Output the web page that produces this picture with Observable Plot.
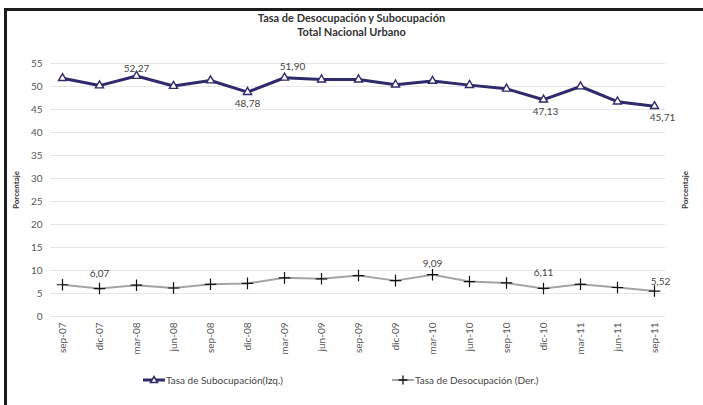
<!DOCTYPE html>
<html>
<head>
<meta charset="utf-8">
<script src="https://cdn.jsdelivr.net/npm/d3@7"></script>
<script src="https://cdn.jsdelivr.net/npm/@observablehq/plot@0.6"></script>
<style>
  html, body { margin: 0; padding: 0; background: #fff; }
  #wrap { position: relative; width: 703px; height: 405px; overflow: hidden; font-family: Lato, "Open Sans", sans-serif; }
  #frame { position: absolute; left: 4px; top: 8px; width: 710px; height: 410px; border-left: 3px solid #1c1c1c; border-top: 3px solid #1c1c1c; box-sizing: border-box; }
  #title { position: absolute; left: 0; width: 703px; top: 11px; text-align: center; font-weight: bold; font-size: 11px; line-height: 14px; color: #333; }
  #chart { position: absolute; left: 0; top: 0; }
  .ylab { position: absolute; font-size: 8px; font-weight: bold; color: #333; transform: rotate(-90deg); transform-origin: center; white-space: nowrap; }
  #legend { position: absolute; top: 373px; left: 0; width: 703px; font-size: 10px; color: #444; }
  .item { position: absolute; display: flex; align-items: center; white-space: nowrap; }
</style>
</head>
<body>
<div id="wrap">
  <div id="frame"></div>
  <div id="chart"></div>
  <div id="title">Tasa de Desocupación y Subocupación<br>Total Nacional Urbano</div>
  <div class="ylab" style="left:-3px; top:185px;">Porcentaje</div>
  <div class="ylab" style="left:666px; top:185px;">Porcentaje</div>
  <div id="legend"></div>
</div>
<script>
const periods = ["sep-07","dic-07","mar-08","jun-08","sep-08","dic-08","mar-09","jun-09","sep-09","dic-09","mar-10","jun-10","sep-10","dic-10","mar-11","jun-11","sep-11"];
const subocupacion = [51.8, 50.2, 52.27, 50.1, 51.3, 48.78, 51.90, 51.5, 51.5, 50.4, 51.2, 50.3, 49.5, 47.13, 50.0, 46.7, 45.71];
const desocupacion = [6.9, 6.07, 6.8, 6.2, 7.0, 7.2, 8.4, 8.2, 8.9, 7.8, 9.09, 7.6, 7.3, 6.11, 7.0, 6.3, 5.52];
const yTicks = [0,5,10,15,20,25,30,35,40,45,50,55];
const seriesNames = ["Tasa de Subocupación(Izq.)", "Tasa de Desocupación (Der.)"];

const fmt = v => v.toFixed(2).replace(".", ",");
const sub = periods.map((p, i) => ({p, v: subocupacion[i]}));
const des = periods.map((p, i) => ({p, v: desocupacion[i]}));

const subLabels = [
  {i: 2, dx: 0, dy: -7},
  {i: 5, dx: 0, dy: 12},
  {i: 6, dx: 8, dy: -11},
  {i: 13, dx: 2, dy: 12},
  {i: 16, dx: 8, dy: 12}
].map(d => ({...d, p: periods[d.i], v: subocupacion[d.i], t: fmt(subocupacion[d.i])}));
const desLabels = [
  {i: 1, dx: 0, dy: -15},
  {i: 10, dx: 0, dy: -11},
  {i: 13, dx: 0, dy: -16},
  {i: 16, dx: 6, dy: -9}
].map(d => ({...d, p: periods[d.i], v: desocupacion[d.i], t: fmt(desocupacion[d.i])}));

const subColor = "#2f2a6b";
const desColor = "#a8a3a3";

const textMarks = (arr, color) => arr.map(d => Plot.text([d], {x: "p", y: "v", text: "t", dx: d.dx, dy: d.dy, fill: color, fontSize: 10}));

const chart = Plot.plot({
  width: 703,
  height: 405,
  marginLeft: 50,
  marginRight: 38,
  marginTop: 63,
  marginBottom: 89,
  style: {fontFamily: "Lato, 'Open Sans', sans-serif", background: "transparent", overflow: "visible"},
  x: {type: "point", domain: periods, padding: 0.2, label: null},
  y: {domain: [0, 55], label: null},
  marks: [
    Plot.gridY(yTicks, {stroke: "#e6e6e6", strokeOpacity: 1, strokeWidth: 1}),
    Plot.axisY(yTicks, {tickSize: 0, tickPadding: 8, fontSize: 10, fill: "#555", label: null}),
    Plot.axisX({tickSize: 0, tickPadding: 6, tickRotate: -90, fontSize: 10, fill: "#555", label: null}),
    Plot.line(sub, {x: "p", y: "v", stroke: subColor, strokeWidth: 3}),
    Plot.dot(sub, {x: "p", y: "v", symbol: "triangle", r: 3, fill: "white", stroke: subColor, strokeWidth: 1.4}),
    Plot.line(des, {x: "p", y: "v", stroke: desColor, strokeWidth: 2}),
    Plot.dot(des, {x: "p", y: "v", symbol: "plus", r: 3.8, stroke: "#111", strokeWidth: 1.2}),
    ...textMarks(subLabels, "#444"),
    ...textMarks(desLabels, "#444")
  ]
});
document.getElementById("chart").appendChild(chart);

const legend = document.getElementById("legend");
const items = [
  {name: seriesNames[0], left: 143, color: subColor, sym: "tri"},
  {name: seriesNames[1], left: 392, color: desColor, sym: "plus"}
];
for (const it of items) {
  const div = document.createElement("div");
  div.className = "item";
  div.style.left = it.left + "px";
  const sw = it.sym === "tri"
    ? `<svg width="22" height="14"><line x1="0" y1="7" x2="22" y2="7" stroke="${it.color}" stroke-width="3"/><path d="M11,3.5 L14.5,9.5 L7.5,9.5 Z" fill="white" stroke="${it.color}" stroke-width="1.5"/></svg>`
    : `<svg width="22" height="14"><line x1="0" y1="7" x2="22" y2="7" stroke="${it.color}" stroke-width="2"/><path d="M11,2.5 V11.5 M6.5,7 H15.5" stroke="#111" stroke-width="1.3"/></svg>`;
  div.innerHTML = sw + `<span style="margin-left:1px">${it.name}</span>`;
  legend.appendChild(div);
}
</script>
</body>
</html>
